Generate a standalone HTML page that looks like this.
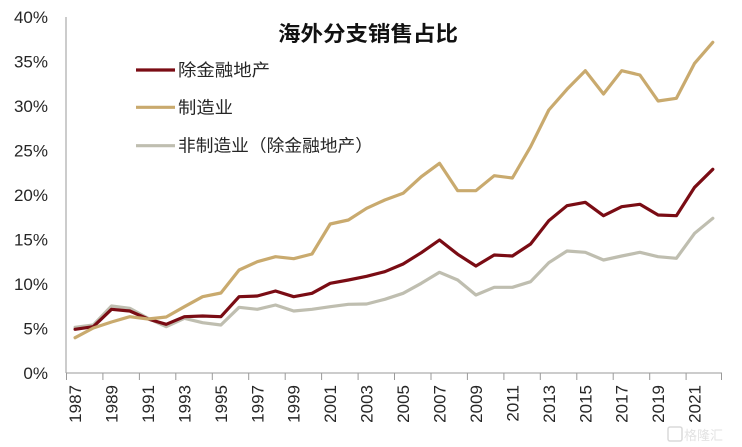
<!DOCTYPE html>
<html><head><meta charset="utf-8"><style>
html,body{margin:0;padding:0;background:#fff;}
svg{display:block;}
text{font-family:"Liberation Sans","Noto Sans CJK SC",sans-serif;fill:#262626;}
</style></head><body>
<svg width="742" height="447" viewBox="0 0 742 447" xmlns="http://www.w3.org/2000/svg">
<rect width="742" height="447" fill="#fff"/>
<!-- axes -->
<line x1="66" y1="17" x2="66" y2="373" stroke="#9a9a9a" stroke-width="1"/>
<line x1="66" y1="373" x2="722" y2="373" stroke="#9a9a9a" stroke-width="1"/>
<g stroke="#9a9a9a" stroke-width="1">
<line x1="66.5" y1="373" x2="66.5" y2="380"/>
<line x1="102.9" y1="373" x2="102.9" y2="380"/>
<line x1="139.4" y1="373" x2="139.4" y2="380"/>
<line x1="175.8" y1="373" x2="175.8" y2="380"/>
<line x1="212.3" y1="373" x2="212.3" y2="380"/>
<line x1="248.7" y1="373" x2="248.7" y2="380"/>
<line x1="285.2" y1="373" x2="285.2" y2="380"/>
<line x1="321.6" y1="373" x2="321.6" y2="380"/>
<line x1="358.1" y1="373" x2="358.1" y2="380"/>
<line x1="394.5" y1="373" x2="394.5" y2="380"/>
<line x1="431.0" y1="373" x2="431.0" y2="380"/>
<line x1="467.4" y1="373" x2="467.4" y2="380"/>
<line x1="503.9" y1="373" x2="503.9" y2="380"/>
<line x1="540.3" y1="373" x2="540.3" y2="380"/>
<line x1="576.8" y1="373" x2="576.8" y2="380"/>
<line x1="613.2" y1="373" x2="613.2" y2="380"/>
<line x1="649.7" y1="373" x2="649.7" y2="380"/>
<line x1="686.1" y1="373" x2="686.1" y2="380"/>
<line x1="721.5" y1="373" x2="721.5" y2="380"/>
</g>
<!-- y labels -->
<g font-size="17" text-anchor="end">
<text x="48" y="23">40%</text>
<text x="48" y="67.5">35%</text>
<text x="48" y="112">30%</text>
<text x="48" y="156.5">25%</text>
<text x="48" y="201">20%</text>
<text x="48" y="245.5">15%</text>
<text x="48" y="290">10%</text>
<text x="48" y="334.5">5%</text>
<text x="48" y="379">0%</text>
</g>
<!-- x labels -->
<g font-size="17" text-anchor="end">
<text transform="translate(81,385) rotate(-90)">1987</text>
<text transform="translate(117.5,385) rotate(-90)">1989</text>
<text transform="translate(154,385) rotate(-90)">1991</text>
<text transform="translate(190.4,385) rotate(-90)">1993</text>
<text transform="translate(226.9,385) rotate(-90)">1995</text>
<text transform="translate(263.3,385) rotate(-90)">1997</text>
<text transform="translate(299.7,385) rotate(-90)">1999</text>
<text transform="translate(336.2,385) rotate(-90)">2001</text>
<text transform="translate(372.6,385) rotate(-90)">2003</text>
<text transform="translate(409.1,385) rotate(-90)">2005</text>
<text transform="translate(445.5,385) rotate(-90)">2007</text>
<text transform="translate(481.9,385) rotate(-90)">2009</text>
<text transform="translate(518.4,385) rotate(-90)">2011</text>
<text transform="translate(554.8,385) rotate(-90)">2013</text>
<text transform="translate(591.3,385) rotate(-90)">2015</text>
<text transform="translate(627.7,385) rotate(-90)">2017</text>
<text transform="translate(664.1,385) rotate(-90)">2019</text>
<text transform="translate(700.6,385) rotate(-90)">2021</text>
</g>
<!-- series -->
<g fill="none" stroke-width="3.2" stroke-linejoin="round" stroke-linecap="round">
<polyline stroke="#BFBEB0" points="75.1,327.3 93.3,325 111.5,306 129.8,308.3 148,318.3 166.2,326.7 184.4,318.3 202.6,322.7 220.9,325 239.1,307.3 257.3,309.3 275.5,305 293.7,311 312,309.3 330.2,306.7 348.4,304.3 366.6,304 384.8,299.3 403.1,293.3 421.3,283.3 439.5,272.3 457.7,280 475.9,295 494.2,287.3 512.4,287.3 530.6,281.7 548.8,262.7 567,251 585.3,252.3 603.5,260 621.7,256 639.9,252.3 658.1,256.7 676.4,258.3 694.6,233.3 712.8,218.3"/>
<polyline stroke="#7A0C14" points="75.1,329.3 93.3,326.7 111.5,309.3 129.8,311 148,319 166.2,324.3 184.4,316.7 202.6,316 220.9,316.7 239.1,296.7 257.3,296 275.5,291 293.7,296.7 312,293.3 330.2,283.3 348.4,280 366.6,276.3 384.8,271.7 403.1,264 421.3,252.7 439.5,240 457.7,254.3 475.9,266 494.2,255 512.4,256 530.6,244 548.8,220.7 567,205.7 585.3,202.3 603.5,215.7 621.7,206.7 639.9,204.3 658.1,215 676.4,215.7 694.6,187.3 712.8,169.3"/>
<polyline stroke="#C9AA6E" points="75.1,337.7 93.3,328 111.5,322 129.8,316.7 148,319 166.2,317 184.4,306.7 202.6,296.7 220.9,293 239.1,270 257.3,261.7 275.5,256.7 293.7,258.7 312,254 330.2,224 348.4,220 366.6,208.3 384.8,200 403.1,193.3 421.3,176.7 439.5,163.3 457.7,190.7 475.9,190.7 494.2,175.7 512.4,178 530.6,146.7 548.8,110 567,89.3 585.3,70.7 603.5,94 621.7,70.7 639.9,75 658.1,101 676.4,98.3 694.6,63.3 712.8,42.3"/>
</g>
<!-- title -->
<text x="278" y="41" font-size="21" font-weight="bold" fill="#111" textLength="180" lengthAdjust="spacingAndGlyphs" style="fill:#111">海外分支销售占比</text>
<!-- legend -->
<line x1="136" y1="70" x2="175" y2="70" stroke="#7A0C14" stroke-width="3.2"/>
<line x1="136" y1="107.3" x2="175" y2="107.3" stroke="#C9AA6E" stroke-width="3.2"/>
<line x1="136" y1="145.7" x2="175" y2="145.7" stroke="#BFBEB0" stroke-width="3.2"/>
<g font-size="17" style="fill:#333">
<text x="178" y="76" textLength="92" lengthAdjust="spacingAndGlyphs">除金融地产</text>
<text x="178" y="113.3" textLength="55" lengthAdjust="spacingAndGlyphs">制造业</text>
<text x="178" y="151.7" textLength="195" lengthAdjust="spacingAndGlyphs">非制造业（除金融地产）</text>
</g>
<!-- watermark -->
<g opacity="0.55">
<rect x="668" y="427" width="14" height="14" rx="2" fill="none" stroke="#bbb" stroke-width="1.5"/>
<text x="684" y="440" font-size="13" style="fill:#ccc">格隆汇</text>
</g>
</svg>
</body></html>
